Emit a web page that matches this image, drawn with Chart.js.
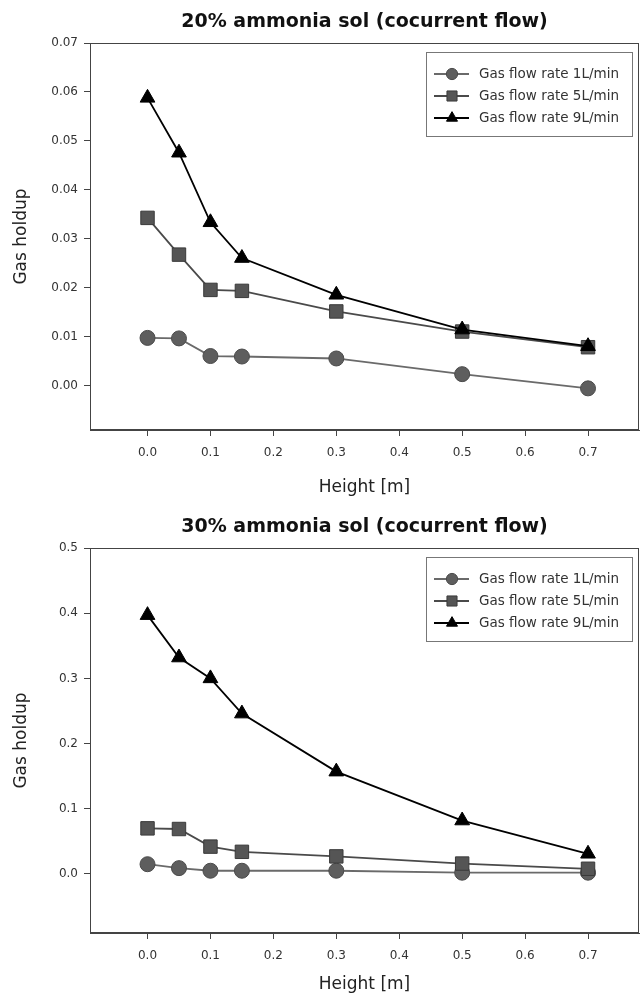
<!DOCTYPE html>
<html>
<head>
<meta charset="utf-8">
<script src="https://cdn.jsdelivr.net/npm/chart.js@4.4.1/dist/chart.umd.min.js"></script>
<style>
html, body { margin: 0; padding: 0; background: #fff; overflow: hidden; }
.panel { position: absolute; left: 0; width: 642px; }
#p20 { top: 0; height: 505px; }
#p30 { top: 505px; height: 497px; }
</style>
</head>
<body>
<div class="panel" id="p20"><canvas id="chart20"></canvas></div>
<div class="panel" id="p30"><canvas id="chart30"></canvas></div>
<script>
// heights along the column [m]
const heights = [0, 0.05, 0.1, 0.15, 0.3, 0.5, 0.7];
const seriesNames = ["Gas flow rate 1L/min", "Gas flow rate 5L/min", "Gas flow rate 9L/min"];

// 20% ammonia sol
const holdup20_1L = [0.0098, 0.0097, 0.0061, 0.0060, 0.0056, 0.0024, -0.0005];
const holdup20_5L = [0.0343, 0.0268, 0.0196, 0.0194, 0.0152, 0.0111, 0.0079];
const holdup20_9L = [0.0588, 0.0476, 0.0334, 0.0261, 0.0186, 0.0115, 0.0081];

// 30% ammonia sol
const holdup30_1L = [0.015, 0.009, 0.005, 0.005, 0.005, 0.002, 0.002];
const holdup30_5L = [0.070, 0.069, 0.042, 0.034, 0.027, 0.016, 0.008];
const holdup30_9L = [0.397, 0.332, 0.300, 0.246, 0.157, 0.082, 0.031];

const xTicks = [0, 0.1, 0.2, 0.3, 0.4, 0.5, 0.6, 0.7];
const yTicks20 = [0, 0.01, 0.02, 0.03, 0.04, 0.05, 0.06, 0.07];
const yTicks30 = [0, 0.1, 0.2, 0.3, 0.4, 0.5];

Chart.defaults.font.family = "'DejaVu Sans', sans-serif";
Chart.defaults.color = '#333';
Chart.defaults.animation = false;

// marker / line look for each series
const looks = [
  { pointStyle: 'circle',   pointRadius: 7.5, line: '#6a6a6a', fill: '#5e5e5e', edge: '#4a4a4a', order: 2 },
  { pointStyle: 'rect',     pointRadius: 9.5, line: '#4a4a4a', fill: '#555',    edge: '#3a3a3a', order: 1 },
  { pointStyle: 'triangle', pointRadius: 8.5, line: '#000',    fill: '#000',    edge: '#000',    order: 0 }
];

// box round the plot area
const frame = {
  id: 'frame',
  beforeDatasetsDraw(chart) {
    const a = chart.chartArea, c = chart.ctx;
    c.save();
    c.strokeStyle = '#444';
    c.lineWidth = 1;
    c.strokeRect(Math.round(a.left) + 0.5, Math.round(a.top) + 0.5,
                 Math.round(a.right - a.left) - 1, Math.round(a.bottom - a.top) - 1);
    c.restore();
  }
};

// boxed legend inside the plot, top right
const boxLegend = {
  id: 'boxLegend',
  afterDatasetsDraw(chart) {
    const a = chart.chartArea, c = chart.ctx;
    const w = 206, h = 84;
    const x = Math.round(a.right - 7 - w), y = Math.round(a.top + 9);
    c.save();
    c.fillStyle = '#fff';
    c.fillRect(x, y, w, h);
    c.strokeStyle = '#777';
    c.lineWidth = 1;
    c.strokeRect(x + 0.5, y + 0.5, w, h);
    chart.data.datasets.forEach((ds, i) => {
      const cy = y + 22 + i * 22;
      c.strokeStyle = ds.borderColor;
      c.lineWidth = 2.2;
      c.beginPath();
      c.moveTo(x + 8, cy);
      c.lineTo(x + 43, cy);
      c.stroke();
      c.fillStyle = ds.pointBackgroundColor;
      c.strokeStyle = ds.pointBorderColor;
      c.lineWidth = 1;
      Chart.helpers.drawPoint(c, { pointStyle: ds.pointStyle, rotation: 0, radius: ds.pointRadius * 0.75, borderWidth: 1 }, x + 26, cy);
      c.fillStyle = '#333';
      c.font = "13.5px 'DejaVu Sans', sans-serif";
      c.textBaseline = 'middle';
      c.textAlign = 'left';
      c.fillText(ds.label, x + 53, cy);
    });
    c.restore();
  }
};

function makeChart(id, title, series, yTicks, yMin, yMax, yDec, xHeight) {
  const datasets = series.map((vals, i) => ({
    label: seriesNames[i],
    data: heights.map((h, k) => ({ x: h, y: vals[k] })),
    borderColor: looks[i].line,
    borderWidth: 1.8,
    pointStyle: looks[i].pointStyle,
    pointRadius: looks[i].pointRadius,
    pointBackgroundColor: looks[i].fill,
    pointBorderColor: looks[i].edge,
    pointBorderWidth: 1,
    tension: 0,
    order: looks[i].order
  }));

  return new Chart(document.getElementById(id), {
    type: 'line',
    data: { datasets: datasets },
    options: {
      responsive: true,
      maintainAspectRatio: false,
      layout: { autoPadding: false, padding: { left: 0, right: 3, top: 0, bottom: 0 } },
      plugins: {
        legend: { display: false },
        tooltip: { enabled: false },
        title: {
          display: true,
          text: title,
          fullSize: false,
          color: '#111',
          font: { size: 19, weight: 'bold' },
          padding: { top: 10.5, bottom: 9.7 }
        }
      },
      scales: {
        x: {
          type: 'linear',
          min: -0.0914,
          max: 0.781,
          afterBuildTicks: s => { s.ticks = xTicks.map(v => ({ value: v })); },
          afterFit: s => { s.height = xHeight; },
          grid: { drawOnChartArea: false, tickLength: 6, color: '#444' },
          border: { color: '#444' },
          ticks: { padding: 10, font: { size: 12 }, callback: v => v.toFixed(1) },
          title: { display: true, text: 'Height [m]', color: '#222', font: { size: 17 }, padding: { top: 4, bottom: 6.8 } }
        },
        y: {
          min: yMin,
          max: yMax,
          afterBuildTicks: s => { s.ticks = yTicks.map(v => ({ value: v })); },
          afterFit: s => { s.width = 90; },
          grid: { drawOnChartArea: false, tickLength: 6, color: '#444' },
          border: { color: '#444' },
          ticks: { padding: 6, font: { size: 12 }, callback: v => v.toFixed(yDec) },
          title: { display: true, text: 'Gas holdup', color: '#222', font: { size: 17 }, padding: { top: 11, bottom: 4 } }
        }
      }
    },
    plugins: [frame, boxLegend]
  });
}

makeChart('chart20', '20% ammonia sol (cocurrent flow)',
  [holdup20_1L, holdup20_5L, holdup20_9L], yTicks20, -0.009, 0.07, 2, 75);
makeChart('chart30', '30% ammonia sol (cocurrent flow)',
  [holdup30_1L, holdup30_5L, holdup30_9L], yTicks30, -0.0905, 0.5, 1, 69);
</script>
</body>
</html>
